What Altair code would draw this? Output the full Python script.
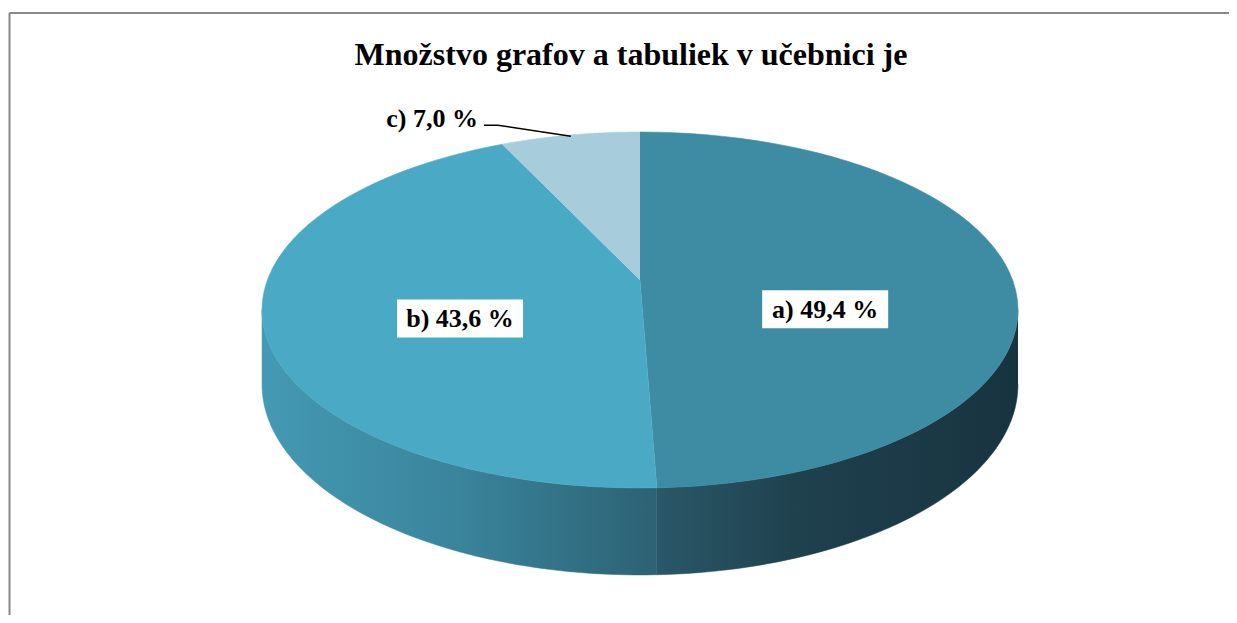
import altair as alt
import pandas as pd

# ---- data ----
categories = ["a)", "b)", "c)"]
shares = [49.4, 43.6, 7.0]
labels = ["a) 49,4 %", "b) 43,6 %", "c) 7,0 %"]
title_text = "Množstvo grafov a tabuliek v učebnici je"

# ---- styles / layout ----
top_colors = ["#3d8ca3", "#4aa9c5", "#a7cddc"]
W, H = 1221, 607
CX, CY = 632, 302          # ellipse centre in view pixels
RX, RY = 378, 178          # ellipse radii in pixels
K = 0.169                  # perspective strength
A = 0.9856                 # horizontal scale after perspective
B = 0.9714                 # vertical scale after perspective
C = 0.169                  # apex lift
DH = 0.406                 # wall height
N = 60
FONT = "Liberation Serif"

xdom = [-CX / RX, (W - CX) / RX]
ydom = [-(H - CY) / RY, CY / RY]
xs = alt.Scale(domain=xdom)
ys = alt.Scale(domain=ydom)

df = pd.DataFrame({"cat": categories, "value": shares, "label": labels,
                   "ord": list(range(len(categories)))})

base = (
    alt.Chart(df)
    .transform_window(cum="sum(value)", sort=[alt.SortField("ord")], frame=[None, 0])
    .transform_calculate(t1="datum.cum / 100 * 2 * PI")
    .transform_calculate(t0="(datum.cum - datum.value) / 100 * 2 * PI")
)

X = lambda f: alt.X(f, type="quantitative", scale=xs, axis=None)
Y = lambda f: alt.Y(f, type="quantitative", scale=ys, axis=None)

def proj_x(r="1"):
    return f"{A} * {r} * sin(datum.t) / (1 + {K} * {r} * cos(datum.t))"

def proj_y(r="1", h="0"):
    return f"({B} * {r} * cos(datum.t) - ({h})) / (1 + {K} * {r} * cos(datum.t)) + {C}"

# ---- side walls ----
sides = (
    base.transform_calculate(lo=f"max(datum.t0, acos(-{K}))")
    .transform_calculate(hi=f"min(datum.t1, 2 * PI - acos(-{K}))")
    .transform_filter("datum.hi > datum.lo")
    .transform_calculate(k=f"sequence(0, {2 * N})")
    .transform_flatten(["k"])
    .transform_calculate(j=f"datum.k < {N} ? datum.k : {2 * N - 1} - datum.k")
    .transform_calculate(t=f"datum.lo + (datum.hi - datum.lo) * datum.j / {N - 1}")
    .transform_calculate(px=proj_x())
    .transform_calculate(py=proj_y(h=f"datum.k < {N} ? 0 : {DH}"))
)

grad_a = alt.Gradient(gradient="linear", x1=0, x2=1, y1=0, y2=0,
                      stops=[alt.GradientStop(offset=0, color="#2a5868"),
                             alt.GradientStop(offset=0.4, color="#1f404d"),
                             alt.GradientStop(offset=1, color="#183340")])
grad_b = alt.Gradient(gradient="linear", x1=0, x2=1, y1=0, y2=0,
                      stops=[alt.GradientStop(offset=0, color="#4499b3"),
                             alt.GradientStop(offset=0.5, color="#3a849c"),
                             alt.GradientStop(offset=1, color="#2c6273")])

side_a = sides.transform_filter("datum.cat == 'a)'").mark_line(
    filled=True, fill=grad_a, stroke=grad_a, strokeWidth=0.5
).encode(x=X("px"), y=Y("py"), order="k:Q")
side_b = sides.transform_filter("datum.cat == 'b)'").mark_line(
    filled=True, fill=grad_b, stroke=grad_b, strokeWidth=0.5
).encode(x=X("px"), y=Y("py"), order="k:Q")

# ---- top faces ----
cscale = alt.Scale(domain=categories, range=top_colors)
tops = (
    base.transform_calculate(k=f"sequence(0, {N + 1})")
    .transform_flatten(["k"])
    .transform_calculate(t=f"datum.t0 + (datum.t1 - datum.t0) * (datum.k - 1) / {N - 1}")
    .transform_calculate(px=f"datum.k == 0 ? 0 : {proj_x()}")
    .transform_calculate(py=f"datum.k == 0 ? {C} : {proj_y()}")
    .mark_line(filled=True, strokeWidth=0.6)
    .encode(
        x=X("px"), y=Y("py"), order="k:Q",
        color=alt.Color("cat:N", scale=cscale, legend=None),
        stroke=alt.Stroke("cat:N", scale=cscale, legend=None),
        detail="cat:N",
    )
)

# ---- labels inside ----
lab = (
    base.transform_calculate(mid="(datum.t0 + datum.t1) / 2")
    .transform_filter("datum.cat != 'c)'")
    .transform_calculate(lx="sin(datum.mid) * 0.49")
    .transform_calculate(ly="cos(datum.mid) * 0.2")
)
BW, BH = 126, 38
box_path = f"M-1,{-BH / BW:.4f}L1,{-BH / BW:.4f}L1,{BH / BW:.4f}L-1,{BH / BW:.4f}Z"
boxes = lab.mark_point(shape=box_path, size=BW * BW, filled=True, fill="white",
                       opacity=1, strokeWidth=0).encode(x=X("lx"), y=Y("ly"))
texts = lab.mark_text(font=FONT, fontSize=26, fontWeight="bold", color="black",
                      baseline="middle", dy=1).encode(x=X("lx"), y=Y("ly"), text="label:N")

# ---- outside label for c with leader ----
LDX, LDY, ELB = -0.23, 0.062, 0.037
cl = (
    base.transform_calculate(t="(datum.t0 + datum.t1) / 2")
    .transform_filter("datum.cat == 'c)'")
    .transform_calculate(ex=proj_x("0.99"))
    .transform_calculate(ey=proj_y("0.99"))
)
leader = (
    cl.transform_calculate(k="sequence(0, 3)")
    .transform_flatten(["k"])
    .transform_calculate(
        qx=f"datum.k == 0 ? datum.ex : (datum.k == 1 ? datum.ex + {LDX + ELB} : datum.ex + {LDX})")
    .transform_calculate(qy=f"datum.k == 0 ? datum.ey : datum.ey + {LDY}")
    .mark_line(color="black", strokeWidth=1.5)
    .encode(x=X("qx"), y=Y("qy"), order="k:Q")
)
ctext = (
    cl.transform_calculate(qx=f"datum.ex + {LDX}")
    .transform_calculate(qy=f"datum.ey + {LDY}")
    .mark_text(font=FONT, fontSize=26, fontWeight="bold", color="black",
               align="right", baseline="middle", dx=-6, dy=-6)
    .encode(x=X("qx"), y=Y("qy"), text="label:N")
)

# ---- title and frame ----
one = alt.Chart(pd.DataFrame({"t": [title_text]}))
title = one.mark_text(font=FONT, fontSize=32, fontWeight="bold", color="black",
                      baseline="alphabetic").encode(
    x=alt.value(623), y=alt.value(57), text="t:N")
frame_top = one.mark_rule(color="#888888", strokeWidth=2).encode(
    x=alt.value(1.5), x2=alt.value(W), y=alt.value(5))
frame_left = one.mark_rule(color="#888888", strokeWidth=2).encode(
    x=alt.value(1.5), y=alt.value(5), y2=alt.value(H))

chart = alt.layer(
    frame_top, frame_left, side_a, side_b, tops, boxes, texts, leader, ctext, title
).properties(width=W, height=H, autosize="none", padding=0).configure_view(strokeWidth=0)

chart.save("out.html", embed_options={"renderer": "svg", "actions": False})
